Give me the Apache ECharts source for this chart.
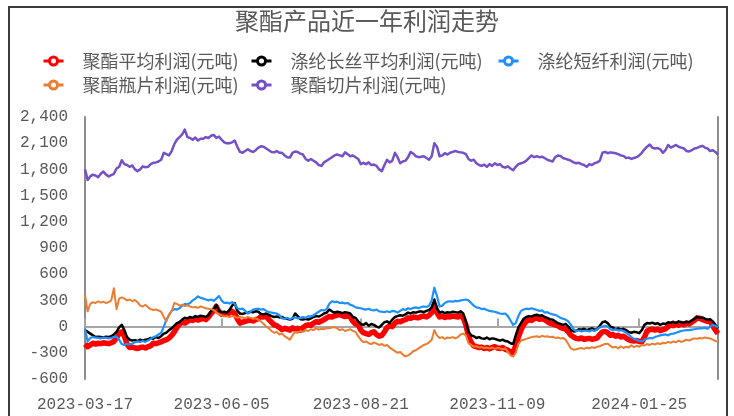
<!DOCTYPE html>
<html>
<head>
<meta charset="utf-8">
<script src="https://cdn.jsdelivr.net/npm/echarts@6/dist/echarts.min.js"></script>
<style>
  html, body { margin: 0; padding: 0; background: #fff; }
  #chart { width: 734px; height: 416px; }
</style>
</head>
<body>
<div id="chart"></div>
<script>
// Trading calendar: weekdays from 2023-03-17 to 2024-03-15, minus exchange holidays
const startDate = '2023-03-17';
const endDate = '2024-03-15';
const holidays = [
  '2023-04-05', '2023-05-01', '2023-05-02', '2023-05-03', '2023-06-22', '2023-06-23',
  '2023-09-29', '2023-10-02', '2023-10-03', '2023-10-04', '2023-10-05', '2023-10-06',
  '2024-01-01', '2024-02-09', '2024-02-12', '2024-02-13', '2024-02-14', '2024-02-15', '2024-02-16'
];
const labelDates = ['2023-03-17', '2023-06-05', '2023-08-21', '2023-11-09', '2024-01-25'];

function buildDates(from, to, skip) {
  const out = [];
  const d = new Date(from + 'T00:00:00Z');
  const end = new Date(to + 'T00:00:00Z');
  while (d <= end) {
    const s = d.toISOString().slice(0, 10);
    const wd = d.getUTCDay();
    if (wd !== 0 && wd !== 6 && skip.indexOf(s) < 0) out.push(s);
    d.setUTCDate(d.getUTCDate() + 1);
  }
  return out;
}
const dates = buildDates(startDate, endDate, holidays);

const seriesNames = ['聚酯平均利润(元吨)', '涤纶长丝平均利润(元吨)', '涤纶短纤利润(元吨)', '聚酯瓶片利润(元吨)', '聚酯切片利润(元吨)'];

// 聚酯平均利润
const polyesterAvg = [
  -200, -230, -210, -190, -200, -190, -195, -185, -190, -195,
  -185, -170, -130, -80, -60, -110, -200, -240, -235, -245,
  -250, -240, -235, -245, -230, -220, -190, -195, -185, -175,
  -160, -150, -130, -100, -60, -10, 30, 50, 40, 60,
  80, 70, 90, 75, 85, 95, 80, 110, 150, 180,
  230, 170, 140, 150, 140, 160, 175, 150, 90, 40,
  50, 60, 70, 75, 65, 80, 90, 115, 110, 120,
  80, 50, 20, 10, -10, -35, -20, -30, -40, -15,
  -30, -20, -40, -10, 10, 20, 15, 40, 55, 50,
  65, 80, 100, 115, 110, 125, 130, 140, 125, 115,
  120, 110, 60, 30, 20, -40, -70, -80, -90, -70,
  -60, -90, -110, -100, -60, -10, 10, 0, 40, 60,
  55, 70, 80, 100, 95, 110, 105, 100, 115, 120,
  110, 130, 160, 250, 160, 110, 120, 105, 115, 110,
  120, 115, 110, 125, 100, 20, -110, -180, -220, -230,
  -240, -235, -250, -240, -255, -240, -230, -245, -250, -240,
  -260, -270, -290, -300, -220, -120, -40, 20, 60, 80,
  70, 90, 100, 85, 90, 80, 60, 40, 30, 20,
  10, -10, -20, -30, -60, -100, -120, -135, -140, -130,
  -145, -140, -135, -145, -140, -130, -90, -60, -55, -70,
  -100, -90, -110, -100, -120, -110, -130, -150, -160, -165,
  -160, -170, -175, -120, -50, -35, -30, -40, -30, -45,
  -35, -25, 0, 20, 10, 30, 15, 35, 20, 40,
  30, 50, 70, 100, 95, 80, 70, 60, 55, 10,
  -40, -80
];

// 涤纶长丝平均利润
const filamentAvg = [
  -40, -60, -80, -100, -120, -115, -120, -125, -115, -120,
  -110, -90, -60, -10, 20, -40, -120, -150, -160, -155,
  -165, -150, -160, -150, -145, -130, -140, -120, -130, -110,
  -80, -70, -40, -20, 10, 40, 50, 80, 100, 95,
  110, 100, 120, 110, 125, 120, 110, 130, 180, 200,
  250, 180, 165, 170, 160, 190, 240, 270, 180, 150,
  145, 155, 160, 170, 165, 175, 170, 145, 140, 150,
  135, 120, 110, 115, 105, 110, 95, 90, 80, 90,
  150, 120, 85, 80, 90, 80, 95, 110, 120, 115,
  130, 150, 160, 195, 175, 160, 170, 165, 155, 165,
  160, 150, 110, 100, 60, 30, 20, 40, 10, 30,
  20, 0, -10, 20, 50, 60, 40, 80, 110, 120,
  130, 125, 140, 160, 150, 165, 160, 170, 175, 165,
  180, 190, 220, 310, 210, 160, 170, 155, 165, 160,
  170, 165, 160, 175, 150, 60, -60, -100, -110, -130,
  -120, -135, -140, -125, -145, -135, -140, -150, -160, -150,
  -165, -170, -190, -200, -100, -10, 40, 90, 110, 120,
  115, 130, 135, 125, 130, 110, 100, 85, 80, 60,
  40, 30, 20, 30, 0, -40, -55, -50, -30, -35,
  -25, -40, -30, -20, -35, -30, 10, 50, 60, 40,
  0, -10, -30, -20, -35, -25, -40, -60, -70, -60,
  -65, -75, -40, 20, 40, 35, 45, 30, 40, 20,
  35, 30, 50, 45, 55, 40, 60, 50, 45, 55,
  50, 70, 90, 110, 100, 105, 90, 80, 85, 60,
  20, -20
];

// 涤纶短纤利润
const staple = [
  -30, -170, -130, -120, -125, -130, -135, -125, -130, -135,
  -130, -120, -115, -150, -200, -210, -200, -205, -195, -180,
  -170, -175, -165, -175, -160, -140, -120, -110, -90, -70,
  0, 80, 130, 180, 200, 195, 210, 240, 260, 255,
  270, 300, 320, 345, 330, 320, 310, 300, 310, 295,
  320, 350, 300, 270, 275, 265, 280, 260, 210, 200,
  205, 180, 150, 170, 195, 200, 205, 195, 200, 180,
  165, 160, 155, 150, 130, 95, 90, 100, 85, 100,
  105, 95, 100, 110, 100, 120, 115, 130, 150, 170,
  190, 185, 200, 260, 290, 280, 285, 270, 275, 265,
  270, 250, 240, 220, 215, 210, 200, 195, 205, 190,
  185, 195, 175, 170, 165, 175, 165, 180, 175, 160,
  180, 200, 190, 210, 200, 215, 220, 210, 225, 230,
  225, 240, 300, 445, 350, 230, 240, 270, 285, 290,
  285, 295, 290, 300, 305, 310, 300, 270, 240, 220,
  215, 200, 205, 190, 180, 175, 170, 160, 150, 145,
  150, 120, 70, 20, 40, 120, 180, 195, 205, 200,
  210, 200, 190, 180, 185, 160, 165, 150, 140, 135,
  120, 100, 90, 80, 60, 20, -30, -50, -45, -55,
  -50, -45, -55, -40, -50, -30, -10, 0, 10, 0,
  -30, -40, -30, -45, -40, -50, -70, -90, -120, -140,
  -150, -165, -170, -150, -140, -130, -135, -120, -110, -100,
  -95, -90, -100, -85, -80, -70, -60, -50, -45, -40,
  -40, -35, -30, -25, -20, -20, -15, -25, 0, 20,
  10, -10
];

// 聚酯瓶片利润
const bottleChip = [
  365, 175, 260, 280, 270, 290, 275, 285, 270, 280,
  300, 440, 200, 320, 335, 320, 300, 310, 290, 305,
  280, 240, 230, 250, 220, 200, 190, 195, 185, 170,
  110, 60, 140, 180, 270, 260, 240, 250, 235, 245,
  230, 220, 225, 215, 230, 220, 210, 205, 200, 190,
  160, 140, 130, 115, 120, 110, 120, 115, 100, 110,
  105, 95, 110, 100, 90, 95, 80, 60, 30, 0,
  -20, -50, -70, -60, -90, -80, -110, -130, -150, -100,
  -60, -70, -50, -60, -40, -50, -30, -40, -20, -35,
  -25, -30, -15, -20, -10, -5, -20, -40, -30, -50,
  -40, -30, -50, -60, -110, -150, -180, -170, -190, -200,
  -180, -195, -210, -200, -220, -210, -240, -260, -280, -300,
  -290, -320, -340, -330, -310, -280, -270, -250, -230, -210,
  -200, -180, -150, -40, -100, -130, -120, -140, -125, -130,
  -120, -135, -120, -90, -80, -100, -190, -210, -230, -225,
  -240, -235, -245, -240, -250, -240, -255, -245, -250, -260,
  -250, -290, -330, -345, -300, -200, -160, -150, -140, -130,
  -120, -115, -110, -120, -105, -115, -110, -120, -115, -130,
  -125, -135, -130, -150, -200, -250, -265, -260, -250, -245,
  -255, -240, -250, -235, -245, -230, -225, -210, -200, -195,
  -220, -240, -230, -250, -225, -245, -230, -240, -215, -235,
  -220, -230, -210, -215, -200, -210, -195, -205, -190, -200,
  -185, -190, -175, -185, -170, -180, -160, -175, -165, -150,
  -160, -145, -135, -140, -130, -135, -125, -130, -135, -150,
  -165, -170
];

// 聚酯切片利润
const chip = [
  1800, 1680, 1720, 1740, 1730, 1710, 1750, 1775, 1740, 1720,
  1735, 1750, 1810, 1830, 1905, 1860, 1850, 1830, 1845, 1800,
  1780, 1800, 1835, 1825, 1830, 1860, 1875, 1880, 1890, 1910,
  1990, 1975, 1960, 2010, 2090, 2140, 2170, 2200, 2255, 2170,
  2160, 2140, 2165, 2130, 2150, 2150, 2170, 2160, 2185, 2195,
  2160, 2175, 2140, 2110, 2100, 2100, 2110, 2130, 2060, 2000,
  1990, 2010, 2030, 2010, 2000, 2020, 2050, 2065, 2060, 2040,
  2020, 2000, 1995, 2010, 1990, 1990, 1960, 1940, 1935, 1990,
  2005, 2000, 1980, 1970, 1920, 1900, 1920, 1900, 1880, 1850,
  1840, 1880, 1900, 1920, 1940, 1960, 1970, 1960, 1950, 1995,
  1975, 1950, 1960, 1940, 1920, 1860, 1875, 1860, 1880, 1850,
  1855, 1840, 1800, 1780, 1850, 1910, 1880, 1900, 1990, 1940,
  1870, 1890, 1900, 1940, 2000, 1980, 1950, 1940, 1945, 1950,
  1930, 1910, 1950, 2100, 2060, 1950, 1960, 1985, 1970, 1990,
  2000, 2010, 2000, 1995, 1990, 1975, 1920, 1900, 1910, 1870,
  1850, 1840, 1855, 1830, 1860, 1840, 1870, 1850, 1860, 1830,
  1820, 1835, 1810, 1790, 1830, 1860, 1870, 1880, 1900, 1930,
  1960, 1940, 1950, 1940, 1945, 1930, 1910, 1900, 1890, 1940,
  1960, 1955, 1930, 1920, 1910, 1900, 1880, 1870, 1875, 1860,
  1850, 1830, 1860, 1850, 1870, 1880, 1900, 1990, 2000, 1985,
  1995, 1990, 1985, 1975, 1960, 1955, 1930, 1935, 1920, 1930,
  1940, 1960, 1990, 2030, 2060, 2085, 2050, 2040, 2045, 2030,
  1990, 2020, 2080, 2050, 2065, 2080, 2060, 2050, 2040, 2010,
  2005, 2020, 2040, 2045, 2060, 2070, 2050, 2040, 2010, 2020,
  2000, 1970
];

const yTicks = { min: -600, max: 2400, step: 300 };
const colors = ['#FF0000', '#000000', '#1E90FF', '#ED7D31', '#7451C8'];
const widths = [5.5, 2.5, 2.2, 2, 2.5];
const values = [polyesterAvg, filamentAvg, staple, bottleChip, chip];

const textGray = '#595959';
const axisGray = '#8C8C8C';

function fmt(v) {
  const s = Math.abs(v).toString().replace(/\B(?=(\d{3})+(?!\d))/g, ',');
  return (v < 0 ? '-' : '') + s;
}

// one legend block per item so each sits at its own slot
const legendSlots = [[42, 52], [250, 52], [497, 52], [42, 76], [250, 76]];
const legends = seriesNames.map((name, i) => ({
  data: [name],
  left: legendSlots[i][0],
  top: legendSlots[i][1],
  padding: 0,
  itemWidth: 20,
  itemHeight: 10,
  itemGap: 0,
  selectedMode: false,
  lineStyle: { width: 3 },
  itemStyle: { color: '#ffffff', borderColor: colors[i], borderWidth: 3 },
  textStyle: { color: textGray, fontSize: 18, fontFamily: '"Noto Sans CJK SC", sans-serif', padding: [0, 0, 0, 14] }
}));

const labelPick = (idx, val) => labelDates.indexOf(val) >= 0;

const chart = echarts.init(document.getElementById('chart'), null, { renderer: 'canvas' });
chart.setOption({
  animation: false,
  backgroundColor: '#ffffff',
  title: {
    text: '聚酯产品近一年利润走势',
    left: 'center',
    top: 9,
    padding: 0,
    textStyle: { color: textGray, fontSize: 24, fontWeight: 'normal', fontFamily: '"Noto Sans CJK SC", sans-serif' }
  },
  legend: legends,
  grid: { left: 85, right: 16, top: 117, bottom: 37, containLabel: false },
  xAxis: [
    {
      type: 'category',
      data: dates,
      boundaryGap: false,
      position: 'bottom',
      axisLine: { show: false, onZero: false },
      axisTick: { show: false },
      axisLabel: {
        interval: labelPick,
        color: textGray,
        fontSize: 16,
        fontFamily: '"Liberation Mono", monospace',
        margin: 18
      },
      splitLine: { show: false }
    },
    {
      type: 'category',
      data: dates,
      boundaryGap: false,
      axisLine: { show: true, onZero: true, lineStyle: { color: '#A6A6A6', width: 2 } },
      axisTick: { show: true, interval: labelPick, length: 8, lineStyle: { color: '#A6A6A6', width: 2 } },
      axisLabel: { show: false },
      splitLine: { show: false }
    }
  ],
  yAxis: [
    {
      type: 'value',
      min: yTicks.min,
      max: yTicks.max,
      interval: yTicks.step,
      axisLine: { show: true, lineStyle: { color: axisGray, width: 2 } },
      axisTick: { show: false },
      splitLine: { show: false },
      axisLabel: {
        formatter: fmt,
        color: textGray,
        fontSize: 16,
        fontFamily: '"Liberation Mono", monospace',
        margin: 17
      }
    },
    {
      type: 'value',
      position: 'right',
      min: yTicks.min,
      max: yTicks.max,
      interval: yTicks.step,
      axisLine: { show: true, lineStyle: { color: axisGray, width: 2 } },
      axisTick: { show: false },
      axisLabel: { show: false },
      splitLine: { show: false }
    }
  ],
  series: seriesNames.map((name, i) => ({
    name: name,
    type: 'line',
    data: values[i],
    xAxisIndex: 0,
    yAxisIndex: 0,
    symbol: 'circle',
    symbolSize: 10,
    showSymbol: false,
    color: colors[i],
    lineStyle: { color: colors[i], width: widths[i], join: 'round' },
    itemStyle: { color: '#ffffff', borderColor: colors[i], borderWidth: 3 },
    emphasis: { disabled: true },
    z: 2 + i
  })),
  graphic: [
    {
      type: 'rect',
      shape: { x: 9, y: 7, width: 718, height: 430 },
      style: { fill: 'none', stroke: '#3C3C3C', lineWidth: 2 },
      silent: true,
      z: 100
    }
  ]
});
</script>
</body>
</html>
